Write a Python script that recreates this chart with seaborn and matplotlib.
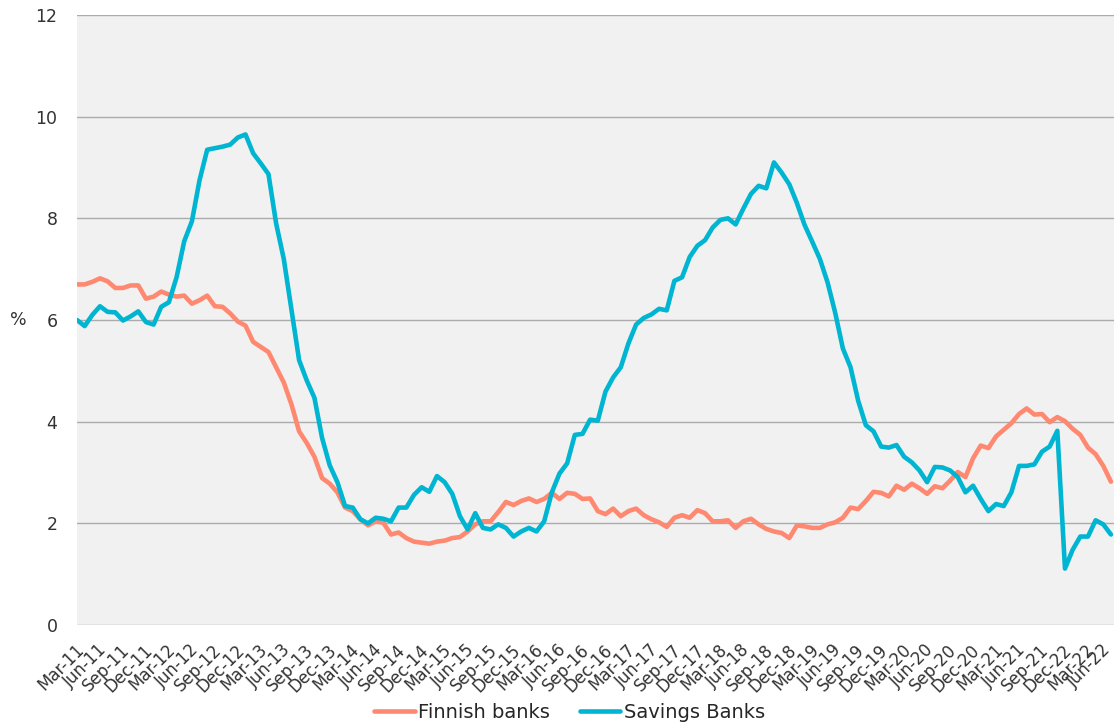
import numpy as np
import pandas as pd
import matplotlib
matplotlib.use("Agg")
import matplotlib.pyplot as plt
import matplotlib.transforms as mtransforms
import seaborn as sns

# monthly values, Mar-11 .. Jun-22 (136 months)
finnish_banks = [
    6.70, 6.70, 6.75, 6.82, 6.76, 6.63, 6.63, 6.68, 6.68, 6.42, 6.46, 6.56,
    6.50, 6.46, 6.48, 6.32, 6.39, 6.48, 6.27, 6.26, 6.13, 5.97, 5.89, 5.57,
    5.47, 5.37, 5.07, 4.77, 4.34, 3.81, 3.58, 3.31, 2.89, 2.78, 2.61, 2.31,
    2.24, 2.08, 1.96, 2.04, 2.01, 1.78, 1.82, 1.71, 1.64, 1.62, 1.60, 1.64,
    1.66, 1.71, 1.73, 1.84, 1.98, 2.04, 2.04, 2.22, 2.42, 2.36, 2.44, 2.49,
    2.42, 2.48, 2.60, 2.48, 2.60, 2.58, 2.48, 2.49, 2.24, 2.18, 2.29, 2.14,
    2.24, 2.29, 2.16, 2.08, 2.02, 1.93, 2.11, 2.16, 2.11, 2.26, 2.20, 2.04,
    2.04, 2.06, 1.91, 2.04, 2.09, 1.98, 1.89, 1.84, 1.81, 1.71, 1.96, 1.94,
    1.91, 1.91, 1.98, 2.02, 2.11, 2.31, 2.28, 2.44, 2.62, 2.60, 2.53, 2.74,
    2.66, 2.78, 2.69, 2.58, 2.73, 2.69, 2.84, 3.01, 2.91, 3.28, 3.53, 3.48,
    3.71, 3.84, 3.97, 4.15, 4.26, 4.14, 4.15, 3.99, 4.09, 4.01, 3.86, 3.74,
    3.49, 3.36, 3.13, 2.82,
]
savings_banks = [
    6.00, 5.88, 6.10, 6.27, 6.16, 6.15, 5.99, 6.07, 6.17, 5.96, 5.91, 6.26,
    6.35, 6.84, 7.55, 7.94, 8.75, 9.35, 9.38, 9.41, 9.45, 9.59, 9.65, 9.28,
    9.08, 8.87, 7.90, 7.20, 6.20, 5.21, 4.81, 4.47, 3.68, 3.14, 2.81, 2.34,
    2.31, 2.08, 2.00, 2.11, 2.09, 2.04, 2.31, 2.31, 2.56, 2.71, 2.62, 2.93,
    2.81, 2.58, 2.14, 1.88, 2.20, 1.91, 1.88, 1.98, 1.91, 1.74, 1.84, 1.91,
    1.84, 2.04, 2.61, 2.98, 3.18, 3.74, 3.76, 4.04, 4.02, 4.59, 4.87, 5.07,
    5.54, 5.91, 6.04, 6.11, 6.22, 6.19, 6.77, 6.84, 7.24, 7.46, 7.57, 7.82,
    7.97, 8.00, 7.88, 8.19, 8.48, 8.64, 8.59, 9.10, 8.90, 8.67, 8.30, 7.87,
    7.54, 7.20, 6.74, 6.14, 5.44, 5.07, 4.41, 3.93, 3.81, 3.51, 3.49, 3.54,
    3.31, 3.20, 3.04, 2.81, 3.11, 3.10, 3.04, 2.91, 2.61, 2.74, 2.48, 2.24,
    2.38, 2.34, 2.61, 3.13, 3.13, 3.16, 3.41, 3.51, 3.82, 1.11, 1.48, 1.74,
    1.74, 2.06, 1.98, 1.78,
]
# one label every third month, as printed on the original axis
tick_labels = [
    "Mar-11", "Jun-11", "Sep-11", "Dec-11", "Mar-12", "Jun-12", "Sep-12", "Dec-12",
    "Mar-13", "Jun-13", "Sep-13", "Dec-13", "Mar-14", "Jun-14", "Sep-14", "Dec-14",
    "Mar-15", "Jun-15", "Sep-15", "Dec-15", "Mar-16", "Jun-16", "Sep-16", "Dec-16",
    "Mar-17", "Jun-17", "Sep-17", "Dec-17", "Mar-18", "Jun-18", "Sep-18", "Dec-18",
    "Mar-19", "Jun-19", "Sep-19", "Dec-19", "Mar-20", "Jun-20", "Sep-20", "Dec-20",
    "Mar-21", "Jun-21", "Sep-21", "Dec-22", "Mar-22", "Jun-22",
]

series_names = ["Finnish banks", "Savings Banks"]
colors = {"Finnish banks": "#FF8870", "Savings Banks": "#00B5D1"}

df = pd.DataFrame({
    "month": np.arange(len(finnish_banks)),
    "Finnish banks": finnish_banks,
    "Savings Banks": savings_banks,
}).melt(id_vars="month", var_name="series", value_name="rate")

sns.set_style("white")
plt.rcParams["font.family"] = ["DejaVu Sans"]

fig = plt.figure(figsize=(11.14, 7.24), dpi=100)
ax = fig.add_axes([77 / 1114, 99 / 724, 1037 / 1114, 610 / 724])

sns.lineplot(
    data=df, x="month", y="rate", hue="series", hue_order=series_names,
    palette=colors, linewidth=3.3, ax=ax,
    solid_joinstyle="round", solid_capstyle="round",
)

ax.set_facecolor("#F1F1F1")
for s in ax.spines.values():
    s.set_visible(False)
ax.set_xlim(0, 135.4)
ax.set_ylim(0, 12)
ax.set_yticks(np.arange(0, 13, 2))
ax.grid(axis="y", color="#ABABAB", linewidth=1)
ax.grid(axis="x", visible=False)
ax.set_axisbelow(True)

ax.tick_params(axis="x", length=0, pad=16)
ax.tick_params(axis="y", length=0, pad=14, labelsize=12.5, labelcolor="#333333")
ax.set_xticks(np.arange(0, len(finnish_banks), 3))
ax.set_xticklabels(tick_labels, rotation=45, ha="right", va="center",
                   rotation_mode="anchor", fontsize=12, color="#333333")
# nudge the rotated labels right like the original; keep the last one inside
xlabels = ax.get_xticklabels()
for k, lab in enumerate(xlabels):
    dx = 4 if k < len(xlabels) - 1 else -3
    lab.set_transform(lab.get_transform()
                      + mtransforms.ScaledTranslation(dx / 100, 0, fig.dpi_scale_trans))

ax.set_xlabel("")
ax.set_ylabel("%", rotation=0, fontsize=12.5, color="#333333", ha="center", va="center")
ax.yaxis.set_label_coords(-0.057, 0.5)

handles, labels = ax.get_legend_handles_labels()
ax.legend(handles, labels, loc="center", bbox_to_anchor=(0.475, -0.143), ncol=2,
          frameon=False, fontsize=14, handlelength=2.1, handletextpad=0.2,
          columnspacing=1.5)

fig.savefig("out.png", dpi=100, facecolor="white")
